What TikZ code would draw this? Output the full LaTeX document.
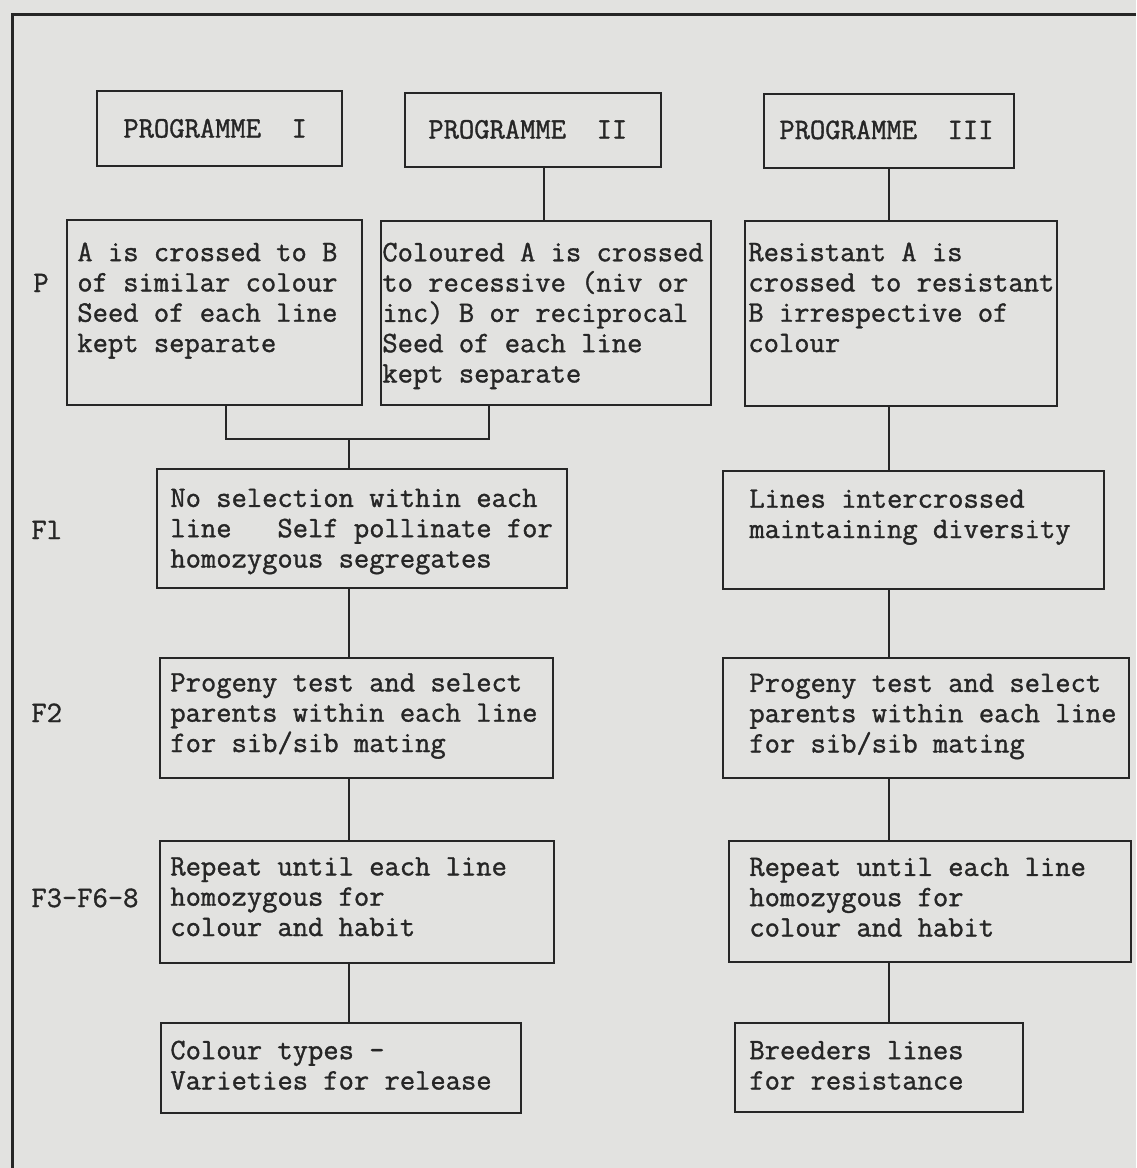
\documentclass[tikz,border=0pt]{standalone}
\usepackage{fontspec}
\newfontfamily\typer{lmmono12-regular.otf}[FakeBold=1.2]
\usepackage{tikz}
\usetikzlibrary{arrows.meta}
\usepackage{xcolor}
\definecolor{paper}{RGB}{226,226,224}
\definecolor{ink}{RGB}{38,38,38}

\begin{document}
\begin{tikzpicture}[x=0.5pt, y=-0.5pt,
    blk/.style={rectangle, draw=ink, line width=1pt, inner sep=0pt},
    txt/.style={anchor=base west, inner sep=0pt, align=left, text=ink,
      font=\typer\fontsize{14.85}{15.15}\selectfont},
    link/.style={draw=ink, line width=0.8pt}]

          % Page
          \fill[paper] (0,0) rectangle (1136,1168);
          \useasboundingbox (0,0) rectangle (1136,1168);
          \draw[ink, line width=1.5pt] (1136,14) -- (12,14) -- (12,1168);

          % Variables
          \coordinate (colA)  at (349,0);
          \coordinate (colB)  at (544,0);
          \coordinate (colC)  at (889,0);
          \coordinate (dropI) at (226,0);
          \coordinate (dropII) at (489,0);
          \coordinate (join)  at (349,439);

          % Programme boxes (text: base of last line)
          \node[blk, minimum width=122.5pt, minimum height=37.5pt] (prgI)   at (219.5,128.5) {};
          \node[blk, minimum width=128pt,   minimum height=37pt]   (prgII)  at (533,130) {};
          \node[blk, minimum width=125pt,   minimum height=37pt]   (prgIII) at (889,131) {};
          \node[txt] (prgIt)   at (123,137.5) {PROGRAMME\ \ I};
          \node[txt] (prgIIt)  at (428,138.5) {PROGRAMME\ \ II};
          \node[txt] (prgIIIt) at (779,139)   {PROGRAMME\ \ III};

          % P row
          \node[blk, minimum width=147.5pt, minimum height=92.5pt] (pI)   at (214.5,312.5) {};
          \node[blk, minimum width=165pt,   minimum height=92pt]   (pII)  at (546,313) {};
          \node[blk, minimum width=156pt,   minimum height=92.5pt] (pIII) at (901,313.5) {};
          \node[txt] (pIt)   at (77,352)  {A is crossed to B\\of similar colour\\Seed of each line\\kept separate};
          \node[txt] (pIIt)  at (382,382.5) {Coloured A is crossed\\to recessive (niv or\\inc) B or reciprocal\\Seed of each line\\kept separate};
          \node[txt] (pIIIt) at (748,352) {Resistant A is\\crossed to resistant\\B irrespective of\\colour};

          % F1 row
          \node[blk, minimum width=205pt,   minimum height=59.5pt] (fIl) at (362,528.5) {};
          \node[blk, minimum width=190.5pt, minimum height=59pt]   (fIr) at (913.5,530) {};
          \node[txt] (fIlt) at (170,567.5) {No selection within each\\line\ \ \ Self pollinate for\\homozygous segregates};
          \node[txt] (fIrt) at (749,538) {Lines intercrossed\\maintaining diversity};

          % F2 row
          \node[blk, minimum width=196.5pt, minimum height=60pt] (fIIl) at (356.5,718) {};
          \node[blk, minimum width=203pt,   minimum height=60pt] (fIIr) at (926,718) {};
          \node[txt] (fIIlt) at (170,752) {Progeny test and select\\parents within each line\\for sib/sib mating};
          \node[txt] (fIIrt) at (749,752.5) {Progeny test and select\\parents within each line\\for sib/sib mating};

          % F3-F6-8 row
          \node[blk, minimum width=197pt, minimum height=61pt]   (fIIIl) at (357,902) {};
          \node[blk, minimum width=201pt, minimum height=60.5pt] (fIIIr) at (930,901.5) {};
          \node[txt] (fIIIlt) at (170,936) {Repeat until each line\\homozygous for\\colour and habit};
          \node[txt] (fIIIrt) at (749,936.5) {Repeat until each line\\homozygous for\\colour and habit};

          % End boxes
          \node[blk, minimum width=180pt, minimum height=45pt]   (endl) at (341,1068) {};
          \node[blk, minimum width=144pt, minimum height=44.5pt] (endr) at (879,1067.5) {};
          \node[txt] (endlt) at (170,1089.5) {Colour types -\\Varieties for release};
          \node[txt] (endrt) at (749,1089.5) {Breeders lines\\for resistance};

          % Generation labels
          \node[txt] (genP)   at (33,292) {P};
          \node[txt] (genF1)  at (31,539) {Fl};
          \node[txt] (genF2)  at (31,722) {F2};
          \node[txt] (genF3)  at (31,907) {F3-F6-8};

          % Connectors
          \draw[link] (prgII.south -| colB) -- (pII.north -| colB);
          \draw[link] (prgIII.south -| colC) -- (pIII.north -| colC);
          \draw[link] (pI.south -| dropI) |- (join -| dropII) -- (pII.south -| dropII);
          \draw[link] (join) -- (fIl.north -| join);
          \draw[link] (pIII.south -| colC) -- (fIr.north -| colC);
          \foreach \a/\b in {fIl/fIIl, fIIl/fIIIl, fIIIl/endl}
            \draw[link] (\a.south -| colA) -- (\b.north -| colA);
          \foreach \a/\b in {fIr/fIIr, fIIr/fIIIr, fIIIr/endr}
            \draw[link] (\a.south -| colC) -- (\b.north -| colC);

        \end{tikzpicture}
\end{document}
